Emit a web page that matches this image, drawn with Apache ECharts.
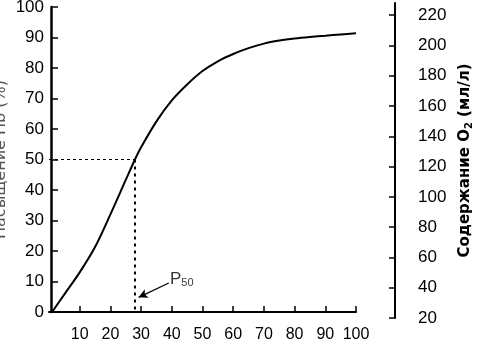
<!DOCTYPE html>
<html>
<head>
<meta charset="utf-8">
<script src="https://cdn.jsdelivr.net/npm/echarts@6/dist/echarts.min.js"></script>
<style>
  html, body { margin: 0; padding: 0; background: #ffffff; }
  #chart { width: 483px; height: 341px; }
</style>
</head>
<body>
<div id="chart"></div>
<script>
// Oxygen–haemoglobin dissociation curve
const pO2 = [1, 5, 10, 15, 20, 25, 28, 30, 35, 40, 45, 50, 55, 60, 65, 70, 75, 80, 85, 90, 95, 100];
const saturation = [0, 5.8, 13, 21.3, 32, 43.3, 50, 54, 62.5, 69.4, 74.6, 79, 82.2, 84.6, 86.5, 88, 89, 89.7, 90.2, 90.6, 91, 91.4];

// P50: partial pressure at which Hb is half saturated
const p50Pressure = 28;
const p50Saturation = 50;

// Tick labels
const pressureTicks = [10, 20, 30, 40, 50, 60, 70, 80, 90, 100];
const saturationTicks = [0, 10, 20, 30, 40, 50, 60, 70, 80, 90, 100];
const contentTicks = [20, 40, 60, 80, 100, 120, 140, 160, 180, 200, 220];

const ink = '#000000';
const labelFont = { color: ink, fontFamily: 'Liberation Sans', fontSize: 16 };

const curve = pO2.map((p, i) => [p, saturation[i]]);

const chart = echarts.init(document.getElementById('chart'), null, { renderer: 'canvas' });

chart.setOption({
  backgroundColor: '#ffffff',
  animation: false,
  grid: [
    { left: 49, top: 7, width: 307, height: 305, outerBoundsMode: 'none', containLabel: false },
    { left: 395, top: 3, width: 10, height: 315, outerBoundsMode: 'none', containLabel: false }
  ],
  xAxis: [
    {
      gridIndex: 0, type: 'value', min: 0, max: 100, interval: 10,
      axisLine: { lineStyle: { color: ink, width: 2 } },
      axisTick: { inside: true, length: 6, lineStyle: { color: ink, width: 1.5 }, customValues: pressureTicks },
      axisLabel: Object.assign({ margin: 15, customValues: pressureTicks }, labelFont),
      splitLine: { show: false }
    },
    { gridIndex: 1, type: 'value', show: false, min: 0, max: 1 }
  ],
  yAxis: [
    {
      gridIndex: 0, type: 'value', min: 0, max: 100, interval: 10, offset: -2,
      name: 'Насыщение Hb (%)', nameLocation: 'middle', nameGap: 42, nameMoveOverlap: false,
      nameTextStyle: { color: '#555', fontFamily: 'DejaVu Sans', fontSize: 16 },
      axisLine: { show: true, lineStyle: { color: ink, width: 2.5 } },
      axisTick: { show: true, inside: true, length: 7, lineStyle: { color: ink, width: 1.5 }, customValues: saturationTicks },
      axisLabel: Object.assign({ margin: 7, customValues: saturationTicks }, labelFont, { fontSize: 17 }),
      splitLine: { show: false }
    },
    {
      gridIndex: 1, type: 'value', position: 'right', min: 20, max: 228, interval: 20,
      name: '{a|Содержание O}{s|2}{a| (мл/л)}', nameLocation: 'middle', nameGap: 52,
      nameTextStyle: {
        rich: {
          a: { color: ink, fontFamily: 'DejaVu Sans', fontSize: 15, fontWeight: 'bold', lineHeight: 17 },
          s: { color: ink, fontFamily: 'DejaVu Sans', fontSize: 10, fontWeight: 'bold', lineHeight: 11, verticalAlign: 'bottom' }
        }
      },
      axisLine: { show: true, lineStyle: { color: ink, width: 2 } },
      axisTick: { show: true, inside: true, length: 6, lineStyle: { color: ink, width: 1.5 }, customValues: contentTicks },
      axisLabel: Object.assign({ margin: 13, customValues: contentTicks }, labelFont, { fontSize: 17 }),
      splitLine: { show: false }
    }
  ],
  series: [
    {
      name: 'HbO2',
      type: 'line',
      xAxisIndex: 0, yAxisIndex: 0,
      data: curve,
      smooth: 0.3,
      showSymbol: false,
      lineStyle: { color: ink, width: 2 },
      z: 5,
      markLine: {
        silent: true,
        symbol: ['none', 'arrow'],
        symbolSize: [7, 9],
        lineStyle: { color: ink, width: 1.3, type: 'solid' },
        label: { show: false },
        data: [[{ coord: [39, 9.5] }, { coord: [29.2, 4.8] }]]
      }
    },
    {
      name: 'P50-h',
      type: 'line',
      data: [[0, p50Saturation], [p50Pressure, p50Saturation]],
      showSymbol: false,
      lineStyle: { color: ink, width: 1, type: [3, 3] },
      z: 3
    },
    {
      name: 'P50-v',
      type: 'line',
      data: [[p50Pressure, p50Saturation], [p50Pressure, 0]],
      showSymbol: false,
      lineStyle: { color: ink, width: 2, type: [3, 4] },
      z: 3
    },
    {
      name: 'P50-label',
      type: 'scatter',
      data: [[39.4, 10.8]],
      symbolSize: 0,
      label: {
        show: true,
        position: 'right',
        distance: 0,
        formatter: '{p|P}{s|50}',
        rich: {
          p: { color: ink, fontFamily: 'Liberation Sans', fontSize: 17, lineHeight: 18 },
          s: { color: ink, fontFamily: 'Liberation Sans', fontSize: 11, lineHeight: 12, verticalAlign: 'bottom' }
        }
      }
    }
  ]
});
</script>
</body>
</html>
